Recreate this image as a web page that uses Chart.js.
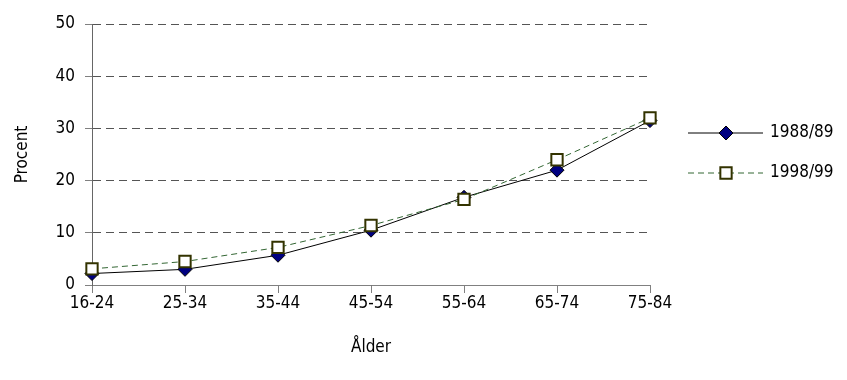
<!DOCTYPE html>
<html>
<head>
<meta charset="utf-8">
<script src="https://cdn.jsdelivr.net/npm/chart.js@4.4.1/dist/chart.umd.min.js"></script>
<style>
  html, body { margin: 0; padding: 0; background: #fff; }
  #wrap { width: 847px; height: 380px; position: relative; }
</style>
</head>
<body>
<div id="wrap"><canvas id="chart"></canvas></div>
<script>
const ageGroups = ['16-24', '25-34', '35-44', '45-54', '55-64', '65-74', '75-84'];
const values8889 = [2.2, 3.0, 5.7, 10.5, 16.8, 22.0, 31.5];
const values9899 = [3.1, 4.5, 7.2, 11.4, 16.4, 24.0, 32.0];
const yTicks = [0, 10, 20, 30, 40, 50];

const FONT = "'Liberation Sans Narrow', 'DejaVu Sans Condensed', 'Liberation Sans', sans-serif";

// legend drawn by hand: line with marker in the middle, like the original
const sideLegend = {
    id: 'sideLegend',
    afterDraw(chart) {
        const ctx = chart.ctx;
        const rows = [chart.data.datasets[0], chart.data.datasets[1]];
        rows.forEach((ds, i) => {
            const y = 133 + i * 40;
            ctx.save();
            ctx.strokeStyle = ds.borderColor;
            ctx.lineWidth = 1;
            ctx.setLineDash(ds.borderDash || []);
            ctx.beginPath();
            ctx.moveTo(688, y);
            ctx.lineTo(763, y);
            ctx.stroke();
            ctx.setLineDash([]);
            ctx.fillStyle = ds.pointBackgroundColor;
            ctx.strokeStyle = ds.pointBorderColor;
            ctx.lineWidth = ds.pointBorderWidth;
            Chart.helpers.drawPoint(ctx, {
                pointStyle: ds.pointStyle,
                radius: ds.pointRadius,
                borderWidth: ds.pointBorderWidth,
                rotation: 0
            }, 726, y);
            ctx.fillStyle = '#000';
            ctx.font = '17px ' + FONT;
            ctx.textBaseline = 'middle';
            ctx.fillText(ds.label, 770, y);
            ctx.restore();
        });
    }
};

new Chart(document.getElementById('chart'), {
    type: 'line',
    data: {
        labels: ageGroups,
        datasets: [{
            label: '1988/89',
            data: values8889,
            borderColor: '#000000',
            borderWidth: 1,
            pointStyle: 'rectRot',
            pointRadius: 7,
            pointBackgroundColor: '#000080',
            pointBorderColor: '#000000',
            pointBorderWidth: 1,
            tension: 0,
            order: 1
        }, {
            label: '1998/99',
            data: values9899,
            borderColor: '#336633',
            borderWidth: 1,
            borderDash: [6, 4],
            pointStyle: 'rect',
            pointRadius: 8,
            pointBackgroundColor: '#ffffff',
            pointBorderColor: '#333300',
            pointBorderWidth: 2,
            tension: 0,
            order: 0
        }]
    },
    options: {
        responsive: true,
        maintainAspectRatio: false,
        animation: false,
        layout: { padding: { top: 24, right: 197, bottom: 0, left: 0 } },
        plugins: { legend: { display: false }, tooltip: { enabled: false } },
        scales: {
            x: {
                offset: false,
                grid: { drawOnChartArea: false, drawTicks: true, tickLength: 8, color: '#808080' },
                border: { color: '#808080', width: 1 },
                ticks: { color: '#000', font: { family: FONT, size: 17 }, padding: 0, maxRotation: 0 },
                title: { display: true, text: 'Ålder', color: '#000', font: { family: FONT, size: 17 }, padding: { top: 0, bottom: 22 } },
                afterFit(scale) { scale.height = 95; }
            },
            y: {
                min: 0,
                max: 50,
                afterBuildTicks(scale) { scale.ticks = yTicks.map(v => ({ value: v })); },
                grid: {
                    color: '#555555',
                    tickBorderDash: [],
                    tickColor: '#808080',
                    tickLength: 7
                },
                border: { color: '#666666', width: 1, dash: [8, 5] },
                ticks: { color: '#000', font: { family: FONT, size: 17 }, padding: 10 },
                title: { display: true, text: 'Procent', color: '#000', font: { family: FONT, size: 17 }, padding: { top: 12, bottom: 0 } },
                afterFit(scale) { scale.width = 92; }
            }
        }
    },
    plugins: [sideLegend]
});
</script>
</body>
</html>
